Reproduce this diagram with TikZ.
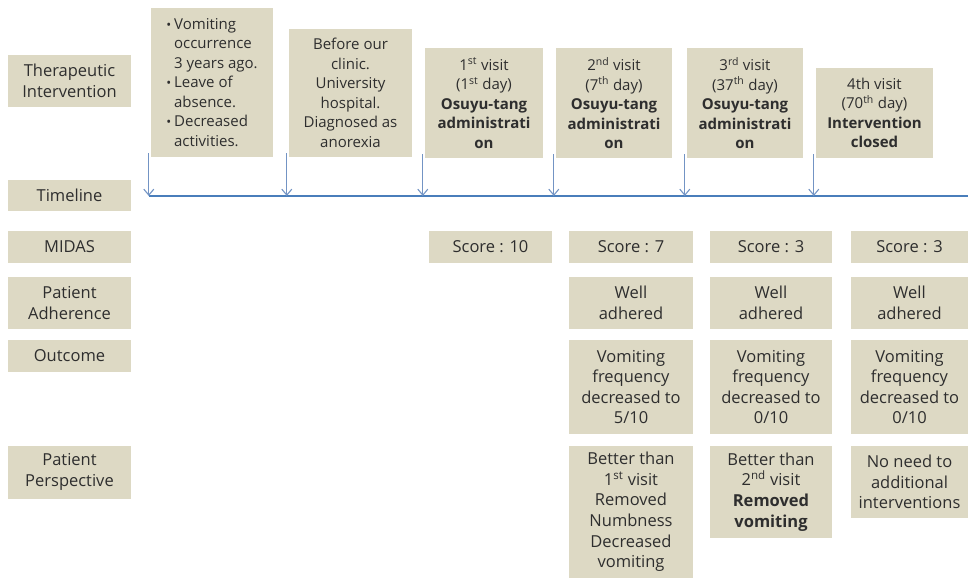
\documentclass[tikz,border=0pt]{standalone}
\usepackage{fontspec}
\setmainfont{Open Sans}
\usetikzlibrary{arrows.meta}

\definecolor{tanbox}{HTML}{DDD9C4}
\definecolor{inkgray}{HTML}{2E2E2E}
\definecolor{pinblue}{HTML}{7394C4}
\definecolor{lineblue}{HTML}{4A7EBB}

\newcommand{\bul}{\raisebox{0pt}{\fontsize{13}{13}\selectfont\textbullet}\hspace{3pt}}
\newcommand{\nobul}{\hphantom{\bul}}

\begin{document}
\begin{tikzpicture}[x=1pt, y=-1pt,
        every node/.style={fill=tanbox, text=inkgray, align=center, inner sep=0pt,
          font=\fontsize{16.5}{20.6}\selectfont},
        head/.style={minimum width=123pt},
        event/.style={font=\fontsize{15}{19.5}\selectfont},
        pin/.style={draw=pinblue, line width=1.1pt, -{Straight Barb[length=6pt, width=10pt]}}
      ]
      \useasboundingbox (0,0) rectangle (968,578);

      % row labels
      \node[head, minimum height=52pt] (therapy) at (69.5,81) {Therapeutic\\Intervention};
      \node[head, minimum height=31pt] (timeline) at (69.5,195.5) {Timeline};
      \node[head, minimum height=32pt] (midas) at (69.5,247) {MIDAS};
      \node[head, minimum height=52pt] (adherence) at (69.5,303) {Patient\\Adherence};
      \node[head, minimum height=32pt] (outcome) at (69.5,356) {Outcome};
      \node[head, minimum height=53pt] (perspective) at (69.5,472) {Patient\\Perspective};

      % events on the timeline
      \node[event, align=left, minimum width=122pt, minimum height=149pt] (onset) at (212,82.5)
        {\bul Vomiting\\\nobul occurrence\\\nobul 3 years ago.\\\bul Leave of\\\nobul absence.\\\bul Decreased\\\nobul activities.};
      \node[event, minimum width=123pt, minimum height=128pt] (before) at (350.5,93)
        {Before our\\clinic.\\University\\hospital.\\Diagnosed as\\anorexia};
      \node[event, minimum width=118pt, minimum height=110pt] (visit1) at (484,103)
        {1\textsuperscript{st} visit\\(1\textsuperscript{st} day)\\\textbf{Osuyu-tang}\\\textbf{administrati}\\\textbf{on}};
      \node[event, minimum width=116pt, minimum height=110pt] (visit2) at (614,103)
        {2\textsuperscript{nd} visit\\(7\textsuperscript{th} day)\\\textbf{Osuyu-tang}\\\textbf{administrati}\\\textbf{on}};
      \node[event, minimum width=116pt, minimum height=110pt] (visit3) at (745,103)
        {3\textsuperscript{rd} visit\\(37\textsuperscript{th} day)\\\textbf{Osuyu-tang}\\\textbf{administrati}\\\textbf{on}};
      \node[event, minimum width=117pt, minimum height=90pt] (visit4) at (874.5,113)
        {4th visit\\(70\textsuperscript{th} day)\\\textbf{Intervention}\\\textbf{closed}};

      % timeline
      \coordinate (tl start) at (149,196);
      \coordinate (tl end) at (968,196);
      \draw[lineblue, line width=2.4pt] (tl start) -- (tl end);
      \foreach \ev in {onset, before, visit1, visit2, visit3, visit4}
        \draw[pin] ([xshift=-2pt, yshift=4pt]\ev.south west) -- ([xshift=-2pt]\ev.south west |- tl start);

      % MIDAS
      \node[minimum width=123pt, minimum height=32pt] (score1) at (490.5,247) {Score : 10};
      \node[minimum width=124pt, minimum height=32pt] (score2) at (631,247) {Score : 7};
      \node[minimum width=122pt, minimum height=32pt] (score3) at (771,247) {Score : 3};
      \node[minimum width=117pt, minimum height=32pt] (score4) at (909.5,247) {Score : 3};

      % adherence
      \node[minimum width=124pt, minimum height=52pt] (adh2) at (631,303) {Well\\adhered};
      \node[minimum width=122pt, minimum height=52pt] (adh3) at (771,303) {Well\\adhered};
      \node[minimum width=117pt, minimum height=52pt] (adh4) at (909.5,303) {Well\\adhered};

      % outcome
      \node[minimum width=124pt, minimum height=94pt] (out2) at (631,387) {Vomiting\\frequency\\decreased to\\5/10};
      \node[minimum width=122pt, minimum height=94pt] (out3) at (771,387) {Vomiting\\frequency\\decreased to\\0/10};
      \node[minimum width=117pt, minimum height=94pt] (out4) at (909.5,387) {Vomiting\\frequency\\decreased to\\0/10};

      % perspective
      \node[minimum width=124pt, minimum height=132pt] (per2) at (631,512)
        {Better than\\1\textsuperscript{st} visit\\Removed\\Numbness\\Decreased\\vomiting};
      \node[minimum width=122pt, minimum height=92pt] (per3) at (771,492)
        {Better than\\2\textsuperscript{nd} visit\\\textbf{Removed}\\\textbf{vomiting}};
      \node[minimum width=117pt, minimum height=72pt] (per4) at (909.5,482)
        {No need to\\additional\\interventions};
    \end{tikzpicture}
\end{document}
